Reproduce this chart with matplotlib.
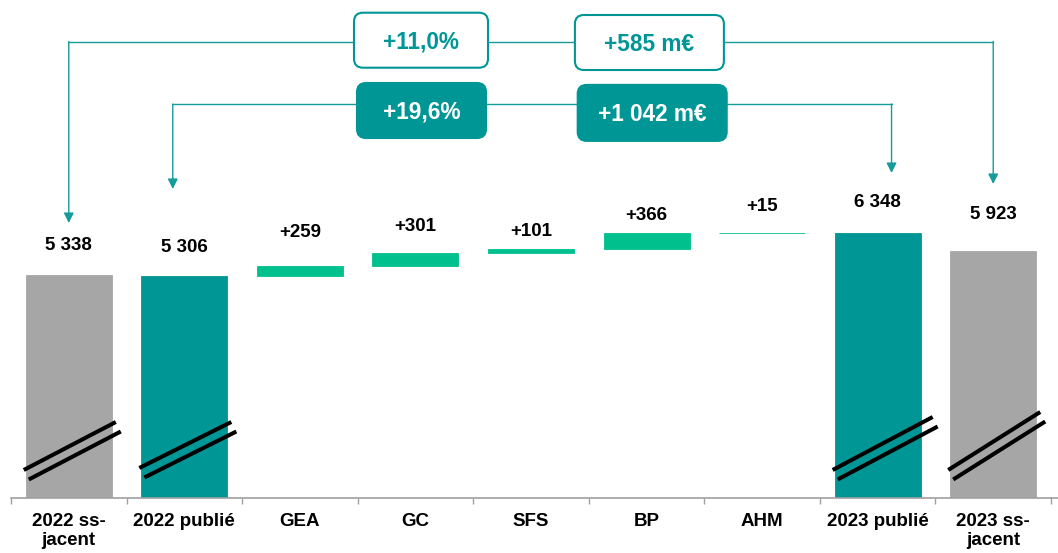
import matplotlib
matplotlib.use("Agg")
import matplotlib.pyplot as plt
from matplotlib.patches import FancyBboxPatch

# ==============================
# Données
# ==============================
categories = ["2022 ss-\njacent", "2022 publié", "GEA", "GC", "SFS", "BP", "AHM",
              "2023 publié", "2023 ss-\njacent"]
values = [5338, 5306, 259, 301, 101, 366, 15, 6348, 5923]
kinds = ["sj", "pub", "delta", "delta", "delta", "delta", "delta", "pub", "sj"]
value_labels = ["5 338", "5 306", "+259", "+301", "+101", "+366", "+15", "6 348", "5 923"]

pct_sj, abs_sj = "+11,0%", "+585 m€"
pct_pub, abs_pub = "+19,6%", "+1 042 m€"

# ==============================
# Style
# ==============================
TEAL = "#009696"
GREEN = "#00C08E"
GRAY = "#A6A6A6"
LINE = "#169B9B"
plt.rcParams["font.family"] = ["Liberation Sans", "DejaVu Sans"]

W, H = 1058, 553
fig = plt.figure(figsize=(W / 100, H / 100), dpi=100)
ax = fig.add_axes([11 / W, (H - 498) / H, 1040 / W, 498 / H])
ax.set_xlim(-0.5, 8.5)
ax.set_ylim(0, 11920)

# cascade
bottoms = []
run = values[1]
for v, k in zip(values, kinds):
    if k == "delta":
        bottoms.append(run)
        run += v
    else:
        bottoms.append(0)
colors = {"sj": GRAY, "pub": TEAL, "delta": GREEN}
x = list(range(len(categories)))
bar_colors = [colors[k] for k in kinds]
ax.bar(x, values, bottom=bottoms, width=0.745, color=bar_colors,
       edgecolor=bar_colors, linewidth=0.6)

# étiquettes de valeurs (décalage en px au-dessus de la barre)
offsets_px = [29, 29, 33, 26, 17, 18, 26, 30, 36]
tops = [b + v for b, v in zip(bottoms, values)]
for i, (t, lbl) in enumerate(zip(tops, value_labels)):
    ax.annotate(lbl, (i, t), xytext=(0, offsets_px[i] * 0.72), textcoords="offset points",
                ha="center", va="center", fontsize=13.5, fontweight="bold", color="black")

# axe
for s in ["left", "right", "top"]:
    ax.spines[s].set_visible(False)
ax.spines["bottom"].set_color("#A0A0A0")
ax.spines["bottom"].set_linewidth(1.2)
ax.set_yticks([])
ax.set_xticks(x, categories, fontsize=13.5, fontweight="bold", linespacing=1.12)
ax.set_xticks([i - 0.5 for i in range(len(categories) + 1)], minor=True)
ax.tick_params(axis="x", which="major", length=0, pad=11)
ax.tick_params(axis="x", which="minor", length=4, width=1, color="#A0A0A0")

# ==============================
# Calque en pixels pour les décorations
# ==============================
ov = fig.add_axes([0, 0, 1, 1], zorder=3)
ov.set_xlim(0, W)
ov.set_ylim(H, 0)
ov.axis("off")
ov.patch.set_alpha(0)


def cx(i):
    return ax.transData.transform((i, 0))[0]


# prolongement de l'axe jusqu'au bord droit
ov.plot([cx(8.5), W], [498, 498], color="#A0A0A0", lw=1.2)

# traits de rupture
for i, rise in zip([0, 1, 7, 8], [48, 46, 53, 58]):
    c = cx(i)
    y0 = 470 if i != 1 else 468
    extra = 8 if i == 7 else 0
    ov.plot([c - 45, c + 47 + extra], [y0, y0 - rise], color="black", lw=2.9,
            solid_capstyle="butt")
    ov.plot([c - 40, c + 52 + extra], [y0 + 9.5, y0 + 9.5 - rise], color="black",
            lw=2.9, solid_capstyle="butt")

arrow = dict(arrowstyle="-|>,head_length=0.6,head_width=0.3", color=LINE, lw=1,
             shrinkA=0, shrinkB=0)


def connector(xl, xr, yline, tip_l, tip_r):
    ov.plot([xl, xr], [yline, yline], color=LINE, lw=1)
    ov.annotate("", xy=(xl, tip_l), xytext=(xl, yline), arrowprops=arrow)
    ov.annotate("", xy=(xr, tip_r), xytext=(xr, yline), arrowprops=arrow)


cat_w = cx(1) - cx(0)
connector(cx(0), cx(8), 41.5, 223, 184)
connector(cx(1) - 0.1 * cat_w, cx(7) + 0.12 * cat_w, 104, 189, 173)


def box(xc, yc, w, h, text, filled):
    face = TEAL if filled else "white"
    p = FancyBboxPatch((xc - w / 2, yc - h / 2), w, h,
                       boxstyle="round,pad=0,rounding_size=9",
                       facecolor=face, edgecolor=TEAL, linewidth=1.5, zorder=4)
    ov.add_patch(p)
    ov.text(xc, yc + 2, text, ha="center", va="center", fontsize=16.3, fontweight="bold",
            color="white" if filled else TEAL, zorder=5)


box(421, 40.2, 134, 55, pct_sj, False)
box(649.4, 42.5, 149, 55, abs_sj, False)
box(421.5, 110.5, 129, 55, pct_pub, True)
box(652.2, 112.9, 149, 56, abs_pub, True)

fig.savefig("out.png", dpi=100)
